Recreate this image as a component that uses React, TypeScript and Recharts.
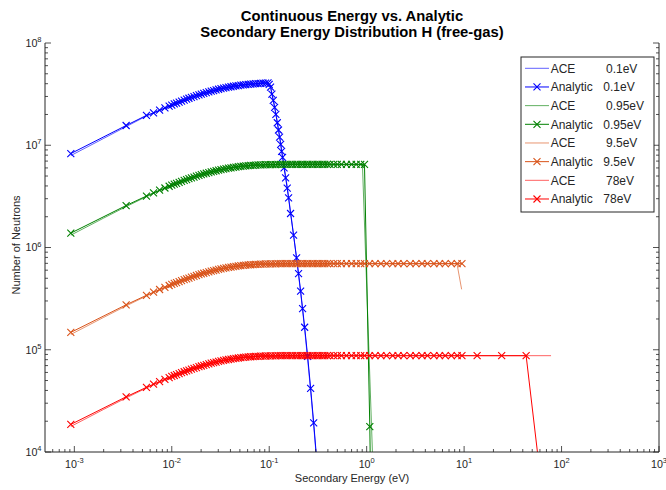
import React from 'react';
import { LineChart, Line, XAxis, YAxis, Legend } from 'recharts';

const FONT = '"Liberation Sans", Arial, Helvetica, sans-serif';
const INK = '#262626';

const BLUE = '#0000ff';
const GREEN = '#008000';
const ORANGE = '#d95319';
const RED = '#ff0000';

// axis ticks
const X_MAJOR = [1e-3, 1e-2, 1e-1, 1, 10, 100, 1000];
const Y_MAJOR = [1e4, 1e5, 1e6, 1e7, 1e8];
const MANTISSA = [2, 3, 4, 5, 6, 7, 8, 9];
const X_MINOR = [-4, -3, -2, -1, 0, 1, 2]
  .flatMap((p) => MANTISSA.map((m) => m * Math.pow(10, p)))
  .filter((v) => v > 5.01e-4 && v < 1000);
const Y_MINOR = [4, 5, 6, 7].flatMap((p) => MANTISSA.map((m) => m * Math.pow(10, p)));
const X_TICKS = [...X_MAJOR, ...X_MINOR].sort((a, b) => a - b);
const Y_TICKS = [...Y_MAJOR, ...Y_MINOR].sort((a, b) => a - b);

// analytic secondary-energy grid (eV), shared by all incident energies
const GRID_E = [
  9.2e-4, 3.4e-3, 5.5e-3, 6.5e-3, 7.5e-3, 8.5e-3, 9.4e-3,
  0.0100, 0.0106, 0.0112, 0.0119, 0.0126, 0.0134, 0.0142, 0.0150, 0.0159, 0.0169,
  0.0179, 0.0190, 0.0201, 0.0213, 0.0226, 0.0240, 0.0254, 0.0269, 0.0285, 0.0302,
  0.0320, 0.0340, 0.0360, 0.0382, 0.0405, 0.0429, 0.0455, 0.0482, 0.0511, 0.0542,
  0.0574, 0.0609, 0.0645, 0.0684, 0.0725, 0.0769, 0.0815, 0.0864, 0.0916, 0.0971,
  0.103, 0.109, 0.116, 0.123, 0.130,
  0.138, 0.146, 0.155, 0.164, 0.174, 0.185, 0.196, 0.208, 0.220, 0.233,
  0.247, 0.262, 0.278, 0.295, 0.312, 0.331, 0.351, 0.372, 0.394,
  0.42, 0.46, 0.50, 0.55, 0.62, 0.70, 0.78, 0.87, 0.95,
  1.07, 1.22, 1.40, 1.60, 1.85, 2.1, 2.4, 2.8, 3.2, 3.7,
  4.2, 4.9, 5.6, 6.4, 7.4, 8.5, 9.5,
];

// 0.1 eV analytic
const BLUE_RISE = [
  8.29e6, 1.56e7, 1.96e7, 2.074e7, 2.201e7, 2.321e7, 2.415e7,
  2.473e7, 2.534e7, 2.587e7, 2.645e7, 2.706e7, 2.766e7, 2.821e7, 2.881e7, 2.936e7, 2.994e7,
  3.055e7, 3.111e7, 3.162e7, 3.222e7, 3.275e7, 3.326e7, 3.383e7, 3.429e7, 3.475e7, 3.529e7,
  3.571e7, 3.614e7, 3.661e7, 3.699e7, 3.733e7, 3.775e7, 3.806e7, 3.834e7, 3.873e7, 3.896e7,
  3.916e7, 3.945e7, 3.963e7, 3.979e7, 4.002e7, 4.015e7, 4.034e7, 4.043e7, 4.061e7, 4.077e7,
];
const BLUE_FALL_E = [
  0.100, 0.1032, 0.1065, 0.110, 0.1135, 0.117, 0.121, 0.1245, 0.1277, 0.131, 0.134, 0.1371,
  0.142, 0.1473, 0.153, 0.158, 0.1656, 0.1778, 0.191, 0.2, 0.21, 0.22, 0.231, 0.248, 0.266, 0.286, 0.31,
];
const BLUE_FALL_V = [
  3.94e7, 3.7e7, 3.16e7, 2.75e7, 2.35e7, 2.0e7, 1.66e7, 1.41e7, 1.2e7, 1.02e7, 8.7e6, 7.6e6,
  6.0e6, 4.8e6, 3.8e6, 3.05e6, 2.15e6, 1.32e6, 7.9e5, 5.55e5, 3.75e5, 2.53e5, 1.66e5, 8.6e4, 4.2e4, 1.93e4, 7.5e3,
];

// 0.95 eV analytic
const GREEN_V = [
  1.382e6, 2.573e6, 3.188e6, 3.422e6, 3.632e6, 3.819e6, 3.973e6,
  4.069e6, 4.16e6, 4.246e6, 4.341e6, 4.431e6, 4.528e6, 4.62e6, 4.705e6, 4.796e6, 4.889e6,
  4.977e6, 5.067e6, 5.151e6, 5.236e6, 5.322e6, 5.405e6, 5.483e6, 5.559e6, 5.633e6, 5.706e6,
  5.774e6, 5.843e6, 5.905e6, 5.966e6, 6.022e6, 6.074e6, 6.123e6, 6.169e6, 6.216e6, 6.253e6,
  6.285e6, 6.317e6, 6.344e6, 6.37e6, 6.392e6, 6.412e6, 6.427e6, 6.442e6, 6.454e6, 6.463e6,
  6.47e6, 6.48e6, 6.48e6, 6.49e6, 6.49e6,
  6.5e6, 6.5e6, 6.5e6, 6.5e6, 6.5e6, 6.5e6, 6.5e6, 6.5e6, 6.5e6, 6.5e6,
  6.5e6, 6.5e6, 6.5e6, 6.5e6, 6.5e6, 6.5e6, 6.5e6, 6.5e6, 6.5e6,
  6.5e6, 6.5e6, 6.5e6, 6.5e6, 6.5e6, 6.5e6, 6.5e6, 6.5e6, 6.5e6,
];
const GREEN_TAIL_E = [1.077, 1.2];
const GREEN_TAIL_V = [1.77e4, 10];

// 9.5 eV analytic
const ORANGE_V = [
  1.478e5, 2.752e5, 3.408e5, 3.659e5, 3.883e5, 4.084e5, 4.249e5,
  4.351e5, 4.448e5, 4.54e5, 4.642e5, 4.738e5, 4.841e5, 4.939e5, 5.03e5, 5.128e5, 5.228e5,
  5.322e5, 5.418e5, 5.508e5, 5.598e5, 5.69e5, 5.78e5, 5.863e5, 5.944e5, 6.023e5, 6.101e5,
  6.174e5, 6.247e5, 6.313e5, 6.379e5, 6.438e5, 6.495e5, 6.547e5, 6.596e5, 6.646e5, 6.686e5,
  6.72e5, 6.754e5, 6.783e5, 6.811e5, 6.835e5, 6.855e5, 6.872e5, 6.887e5, 6.9e5, 6.91e5,
  6.92e5, 6.93e5, 6.93e5, 6.94e5, 6.94e5,
  6.95e5, 6.95e5, 6.95e5, 6.95e5, 6.95e5, 6.95e5, 6.95e5, 6.95e5, 6.95e5, 6.95e5,
  6.95e5, 6.95e5, 6.95e5, 6.95e5, 6.95e5, 6.95e5, 6.95e5, 6.95e5, 6.95e5,
  6.95e5, 6.95e5, 6.95e5, 6.95e5, 6.95e5, 6.95e5, 6.95e5, 6.95e5, 6.95e5,
  6.95e5, 6.95e5, 6.95e5, 6.95e5, 6.95e5, 6.95e5, 6.95e5, 6.95e5, 6.95e5, 6.95e5,
  6.95e5, 6.95e5, 6.95e5, 6.95e5, 6.95e5, 6.95e5, 6.95e5,
];

// 78 eV analytic
const RED_V = [
  1.86e4, 3.464e4, 4.291e4, 4.607e4, 4.889e4, 5.142e4, 5.349e4,
  5.478e4, 5.6e4, 5.716e4, 5.844e4, 5.965e4, 6.095e4, 6.219e4, 6.333e4, 6.456e4, 6.582e4,
  6.7e4, 6.822e4, 6.934e4, 7.048e4, 7.164e4, 7.277e4, 7.382e4, 7.483e4, 7.583e4, 7.681e4,
  7.773e4, 7.865e4, 7.949e4, 8.031e4, 8.106e4, 8.177e4, 8.243e4, 8.304e4, 8.368e4, 8.418e4,
  8.46e4, 8.503e4, 8.54e4, 8.575e4, 8.605e4, 8.631e4, 8.652e4, 8.671e4, 8.688e4, 8.7e4,
  8.71e4, 8.72e4, 8.73e4, 8.74e4, 8.74e4,
  8.75e4, 8.75e4, 8.75e4, 8.75e4, 8.75e4, 8.75e4, 8.75e4, 8.75e4, 8.75e4, 8.75e4,
  8.75e4, 8.75e4, 8.75e4, 8.75e4, 8.75e4, 8.75e4, 8.75e4, 8.75e4, 8.75e4,
  8.75e4, 8.75e4, 8.75e4, 8.75e4, 8.75e4, 8.75e4, 8.75e4, 8.75e4, 8.75e4,
  8.75e4, 8.75e4, 8.75e4, 8.75e4, 8.75e4, 8.75e4, 8.75e4, 8.75e4, 8.75e4, 8.75e4,
  8.75e4, 8.75e4, 8.75e4, 8.75e4, 8.75e4, 8.75e4, 8.75e4,
];
const RED_TAIL_E = [13.6, 24.3, 43.3, 60];
const RED_TAIL_V = [8.75e4, 8.75e4, 8.75e4, 6.2e3];

// continuous-energy (ACE) results
const ACE_BLUE_E = [9.2e-4, 2e-3, 3.4e-3, 5.5e-3, 7.5e-3, 0.01, 0.015, 0.02, 0.03, 0.04, 0.05, 0.07, 0.09, 0.097, 0.104, 0.115, 0.13, 0.15, 0.17, 0.19, 0.21, 0.23, 0.25, 0.27, 0.29, 0.315];
const ACE_BLUE_V = [7.92e6, 1.166e7, 1.521e7, 1.931e7, 2.179e7, 2.473e7, 2.881e7, 3.158e7, 3.524e7, 3.726e7, 3.852e7, 3.994e7, 4.058e7, 4.075e7, 3.62e7, 2.28e7, 1.12e7, 4.5e6, 1.85e6, 8.0e5, 3.65e5, 1.65e5, 7.4e4, 3.4e4, 1.55e4, 6e3];
const ACE_GREEN_E = [9.2e-4, 2e-3, 3.4e-3, 5.5e-3, 7.5e-3, 0.01, 0.015, 0.02, 0.03, 0.04, 0.05, 0.07, 0.1, 0.2, 0.5, 0.905, 1.15];
const ACE_GREEN_V = [1.32e6, 1.939e6, 2.509e6, 3.14e6, 3.595e6, 4.069e6, 4.705e6, 5.144e6, 5.698e6, 6.009e6, 6.198e6, 6.379e6, 6.469e6, 6.5e6, 6.5e6, 6.5e6, 9e3];
const ACE_ORANGE_E = [9.2e-4, 2e-3, 3.4e-3, 5.5e-3, 7.5e-3, 0.01, 0.015, 0.02, 0.03, 0.04, 0.05, 0.07, 0.1, 0.2, 1, 8.45, 9.43];
const ACE_ORANGE_V = [1.411e5, 2.073e5, 2.683e5, 3.357e5, 3.844e5, 4.351e5, 5.03e5, 5.5e5, 6.092e5, 6.425e5, 6.627e5, 6.821e5, 6.917e5, 6.95e5, 6.95e5, 6.95e5, 3.9e5];
const ACE_RED_E = [9.2e-4, 2e-3, 3.4e-3, 5.5e-3, 7.5e-3, 0.01, 0.015, 0.02, 0.03, 0.04, 0.05, 0.07, 0.1, 0.2, 1, 10, 78];
const ACE_RED_V = [1.777e4, 2.61e4, 3.378e4, 4.227e4, 4.84e4, 5.478e4, 6.333e4, 6.925e4, 7.67e4, 8.089e4, 8.343e4, 8.587e4, 8.708e4, 8.75e4, 8.75e4, 8.75e4, 8.75e4];

const pts = (es: number[], vs: number[]) => vs.map((v, i) => ({ e: es[i], v }));

interface Series {
  name: string;
  label: string;
  color: string;
  marker: boolean;
  data: { e: number; v: number }[];
}

const SERIES: Series[] = [
  { name: 'ACE', label: '0.1eV', color: BLUE, marker: false, data: pts(ACE_BLUE_E, ACE_BLUE_V) },
  { name: 'Analytic', label: '0.1eV', color: BLUE, marker: true, data: [...pts(GRID_E, BLUE_RISE), ...pts(BLUE_FALL_E, BLUE_FALL_V)] },
  { name: 'ACE', label: '0.95eV', color: GREEN, marker: false, data: pts(ACE_GREEN_E, ACE_GREEN_V) },
  { name: 'Analytic', label: '0.95eV', color: GREEN, marker: true, data: [...pts(GRID_E, GREEN_V), ...pts(GREEN_TAIL_E, GREEN_TAIL_V)] },
  { name: 'ACE', label: '9.5eV', color: ORANGE, marker: false, data: pts(ACE_ORANGE_E, ACE_ORANGE_V) },
  { name: 'Analytic', label: '9.5eV', color: ORANGE, marker: true, data: pts(GRID_E, ORANGE_V) },
  { name: 'ACE', label: '78eV', color: RED, marker: false, data: pts(ACE_RED_E, ACE_RED_V) },
  { name: 'Analytic', label: '78eV', color: RED, marker: true, data: [...pts(GRID_E, RED_V), ...pts(RED_TAIL_E, RED_TAIL_V)] },
];

const ACE_OPACITY = 0.62;
const MARK = 3.5;

const isMajor = (v: number) => {
  const l = Math.log10(v);
  return Math.abs(l - Math.round(l)) < 1e-6;
};
const expOf = (v: number) => String(Math.round(Math.log10(v)));

const crossPath = (cx: number, cy: number, s: number) =>
  `M${cx - s},${cy - s}L${cx + s},${cy + s}M${cx - s},${cy + s}L${cx + s},${cy - s}`;

const xDot = (color: string) => (props: any) => {
  const { cx, cy, index } = props;
  if (cx == null || cy == null || isNaN(cx) || isNaN(cy)) return <g key={`n${index}`} />;
  return <path key={`x${index}`} d={crossPath(cx, cy, MARK)} stroke={color} strokeWidth={1.1} fill="none" />;
};

const tickLabel = (x: number, y: number, v: number, anchor: 'middle' | 'end') => (
  <text x={x} y={y} textAnchor={anchor} fontSize={10.7} fontFamily={FONT} fill={INK}>
    10<tspan dy={-4.8} fontSize={7.5}>{expOf(v)}</tspan>
  </text>
);

const bottomTick = (props: any) => {
  const { x, y, payload } = props;
  const major = isMajor(payload.value);
  return (
    <g>
      <line x1={x} x2={x} y1={y} y2={y - (major ? 6 : 3)} stroke={INK} strokeWidth={0.8} />
      {major && tickLabel(x, y + 16, payload.value, 'middle')}
    </g>
  );
};

const topTick = (props: any) => {
  const { x, y, payload } = props;
  const major = isMajor(payload.value);
  return <line x1={x} x2={x} y1={y} y2={y + (major ? 6 : 3)} stroke={INK} strokeWidth={0.8} />;
};

const leftTick = (props: any) => {
  const { x, y, payload } = props;
  const major = isMajor(payload.value);
  return (
    <g>
      <line x1={x} x2={x + (major ? 6 : 3)} y1={y} y2={y} stroke={INK} strokeWidth={0.8} />
      {major && tickLabel(x - 3.5, y + 3.8, payload.value, 'end')}
    </g>
  );
};

const rightTick = (props: any) => {
  const { x, y, payload } = props;
  const major = isMajor(payload.value);
  return <line x1={x} x2={x - (major ? 6 : 3)} y1={y} y2={y} stroke={INK} strokeWidth={0.8} />;
};

const renderLegend = () => (
  <svg width={136} height={158} style={{ display: 'block' }}>
    <rect x={1} y={1} width={133} height={155} fill="#fff" stroke={INK} strokeWidth={1} />
    {SERIES.map((s, i) => {
      const y = 12.3 + i * 18.67;
      return (
        <g key={i}>
          <line x1={5} x2={29} y1={y} y2={y} stroke={s.color} strokeOpacity={s.marker ? 1 : ACE_OPACITY} />
          {s.marker && <path d={crossPath(17, y, MARK)} stroke={s.color} strokeWidth={1.1} fill="none" />}
          <text x={30.7} y={y + 4.3} fontSize={12} fontFamily={FONT} fill={INK}>{s.name}</text>
          <text x={s.marker ? 83.3 : 86} y={y + 4.3} fontSize={12} fontFamily={FONT} fill={INK}>{s.label}</text>
        </g>
      );
    })}
  </svg>
);

const App: React.FC = () => {
  return (
    <div style={{ position: 'absolute', left: 0, top: 0, width: 666, height: 490, background: '#fff', fontFamily: FONT }}>
      <LineChart width={666} height={490} margin={{ top: 43, right: 0, bottom: 0, left: 0 }}>
        <XAxis
          xAxisId="b"
          type="number"
          dataKey="e"
          scale="log"
          domain={[5e-4, 1000]}
          allowDataOverflow
          ticks={X_TICKS}
          interval={0}
          tickSize={0}
          tickMargin={0}
          tickLine={false}
          tick={bottomTick}
          height={38}
          axisLine={{ stroke: INK }}
        />
        <XAxis
          xAxisId="t"
          orientation="top"
          type="number"
          scale="log"
          domain={[5e-4, 1000]}
          allowDataOverflow
          ticks={X_TICKS}
          interval={0}
          tickSize={0}
          tickMargin={0}
          tickLine={false}
          tick={topTick}
          height={0}
          axisLine={{ stroke: INK }}
        />
        <YAxis
          yAxisId="l"
          type="number"
          scale="log"
          domain={[1e4, 1e8]}
          allowDataOverflow
          ticks={Y_TICKS}
          interval={0}
          tickSize={0}
          tickMargin={0}
          tickLine={false}
          tick={leftTick}
          width={45}
          axisLine={{ stroke: INK }}
        />
        <YAxis
          yAxisId="r"
          orientation="right"
          type="number"
          scale="log"
          domain={[1e4, 1e8]}
          allowDataOverflow
          ticks={Y_TICKS}
          interval={0}
          tickSize={0}
          tickMargin={0}
          tickLine={false}
          tick={rightTick}
          width={7}
          axisLine={{ stroke: INK }}
        />
        {SERIES.map((s, i) => (
          <Line
            key={i}
            xAxisId="b"
            yAxisId="l"
            data={s.data}
            dataKey="v"
            type="linear"
            stroke={s.color}
            strokeWidth={1}
            strokeOpacity={s.marker ? 1 : ACE_OPACITY}
            dot={s.marker ? xDot(s.color) : false}
            activeDot={false}
            isAnimationActive={false}
          />
        ))}
        <Legend
          content={renderLegend}
          layout="vertical"
          align="center"
          verticalAlign="middle"
          wrapperStyle={{ left: 520, top: 56, width: 136, height: 158 }}
        />
      </LineChart>
      <svg width={666} height={490} style={{ position: 'absolute', left: 0, top: 0, pointerEvents: 'none' }}>
        <text x={352} y={20.5} textAnchor="middle" fontSize={14.8} fontWeight="bold" fontFamily={FONT} fill="#000">
          Continuous Energy vs. Analytic
        </text>
        <text x={352} y={36.5} textAnchor="middle" fontSize={14.8} fontWeight="bold" fontFamily={FONT} fill="#000">
          Secondary Energy Distribution H (free-gas)
        </text>
        <text x={352} y={482} textAnchor="middle" fontSize={11} fontFamily={FONT} fill={INK}>
          Secondary Energy (eV)
        </text>
        <text x={20} y={245} textAnchor="middle" fontSize={11} fontFamily={FONT} fill={INK} transform="rotate(-90, 20, 245)">
          Number of Neutrons
        </text>
      </svg>
    </div>
  );
};

export default App;
